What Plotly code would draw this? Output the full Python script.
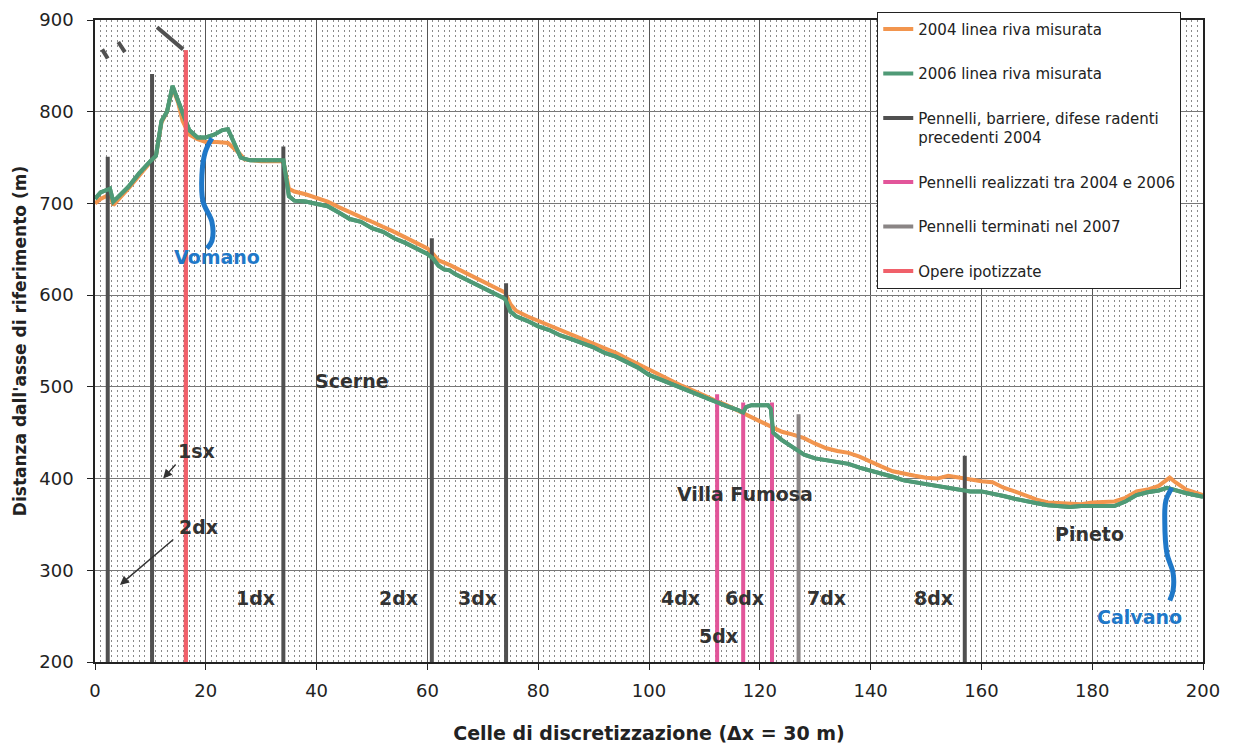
import plotly.graph_objects as go

# ---------------- data ----------------
x_2004 = [0, 1, 2.7, 3.3, 6, 8, 10, 11, 12, 13, 14, 15, 15.8, 17, 18.5, 20, 22, 24, 26, 27, 30, 34,
          35, 36, 38, 40, 42, 44, 46, 48, 50, 52, 54, 56, 58, 60, 61, 62, 64, 66, 68, 70, 72, 74,
          75, 76, 78, 80, 82, 84, 86, 88, 90, 92, 94, 96, 98, 100, 102, 104, 106, 108, 110, 112,
          114, 116, 118, 120, 122, 124, 126, 128, 130, 132, 134, 136, 138, 140, 142, 144, 146, 148,
          150, 152, 154, 156, 158, 160, 162, 164, 166, 168, 170, 172, 174, 176, 178, 180, 182, 184,
          186, 188, 190, 192, 194, 195, 197, 200]
y_2004 = [700, 705, 710, 698, 716, 731, 745, 752, 788, 800, 826, 810, 790, 775, 770, 767, 767, 766, 755, 748, 746, 746,
          716, 713, 710, 706, 702, 696, 690, 685, 680, 675, 669, 663, 657, 651, 645, 638, 633, 627, 621, 615, 609, 603,
          590, 583, 577, 572, 567, 562, 557, 552, 548, 542, 537, 531, 525, 518, 512, 506, 501, 496, 490, 485,
          480, 474, 468, 462, 456, 451, 448, 444, 438, 433, 430, 428, 424, 418, 413, 408, 405, 403,
          401, 400, 403, 401, 398, 397, 396, 390, 386, 381, 377, 374, 373, 372, 372, 374, 375, 375,
          379, 386, 388, 392, 401, 396, 388, 382]

x_2006 = [0, 1, 2.7, 3.3, 6, 8, 10, 11, 12, 13, 14, 15, 15.8, 17, 18.5, 20, 21.5, 23, 24, 25, 26.3, 28, 30, 32, 34,
          35, 36, 38, 40, 42, 44, 46, 48, 50, 52, 54, 56, 58, 60, 61, 62, 63, 64, 65, 66, 68, 70, 72, 74,
          75, 76, 78, 80, 82, 84, 86, 88, 90, 92, 94, 96, 98, 100, 102, 104, 106, 108, 110, 112, 114, 116,
          117, 117.5, 118.5, 121.5, 122, 122.4, 124, 126, 127, 128, 130, 132, 134, 136, 138, 140, 142, 144,
          146, 148, 150, 152, 154, 156, 158, 160, 162, 164, 166, 168, 170, 172, 174, 176, 178, 180, 182,
          184, 186, 188, 190, 192, 193.5, 195, 197, 200]
y_2006 = [705, 712, 716, 702, 718, 733, 746, 752, 790, 800, 828, 812, 797, 780, 772, 772, 775, 780, 781, 768, 750, 747, 747, 747, 747,
          708, 703, 702, 700, 697, 690, 683, 680, 673, 669, 662, 657, 651, 645, 640, 632, 628, 627, 623, 620, 614, 607, 602, 596,
          582, 577, 572, 566, 562, 556, 552, 548, 543, 537, 533, 527, 521, 513, 508, 503, 498, 493, 488, 484, 479, 475,
          472, 478, 480, 480, 476, 450, 442, 434, 430, 426, 422, 420, 418, 416, 412, 409, 406, 402,
          398, 396, 394, 392, 389, 387, 386, 386, 384, 381, 378, 375, 373, 371, 370, 369, 370, 370, 369,
          370, 375, 382, 385, 387, 390, 387, 384, 380]

# groynes / structures: x position and top of each
old_x = [2.3, 10.3, 34, 60.8, 74.2, 157]
old_top = [751, 841, 762, 662, 613, 425]
new_x = [112.3, 117, 122.2]
new_top = [492, 483, 483]
done2007_x = [127]
done2007_top = [470]
planned_x = [16.4]
planned_top = [867]
base_y = 200

# small dark structures near top-left (x0, y0, x1, y1)
top_marks = [(11.2, 892, 15.9, 868), (1.3, 868, 2.3, 858), (4.2, 876, 5.4, 865)]

# rivers
vomano_x = [21.1, 19.9, 19.3, 19.5, 21.1, 21.1, 20.2]
vomano_y = [771, 756, 731, 702, 680, 659, 651]
calvano_x = [194.4, 193.3, 193.1, 193.5, 194.6, 194.6, 194]
calvano_y = [390, 376, 354, 318, 297, 278, 267]

# labels
place_labels = ["Scerne", "Villa Fumosa", "Pineto"]
place_x = [46.4, 117.3, 179.6]
place_y = [506, 383, 340]
river_labels = ["Vomano", "Calvano"]
river_lx = [22, 188.6]
river_ly = [642, 249]
groyne_labels = ["1dx", "2dx", "3dx", "4dx", "6dx", "7dx", "8dx", "5dx"]
groyne_lx = [28.9, 54.7, 69.1, 105.6, 117.3, 132, 151.4, 112.5]
groyne_ly = [270, 270, 270, 270, 270, 270, 270, 228]
arrow_labels = ["1sx", "2dx"]
arrow_lx = [18.4, 18.6]
arrow_ly = [430, 347]
arrow_tail_x = [14.8, 14.4]
arrow_tail_y = [417, 335]
arrow_head_x = [12.3, 4.5]
arrow_head_y = [400, 284]

x_ticks = list(range(0, 201, 20))
y_ticks = list(range(200, 901, 100))

# ---------------- colours ----------------
C_2004 = "#f2954e"
C_2006 = "#4f9a76"
C_OLD = "#505050"
C_NEW = "#e2559a"
C_2007 = "#8a8585"
C_PLAN = "#f0606a"
C_RIVER = "#1f78c8"
FONT = "DejaVu Sans"


def vlines(xs, tops):
    xx, yy = [], []
    for x, t in zip(xs, tops):
        xx += [x, x, None]
        yy += [base_y, t, None]
    return xx, yy


fig = go.Figure()

fig.add_trace(go.Scatter(x=x_2004, y=y_2004, mode="lines", name="2004 linea riva misurata",
                         line=dict(color=C_2004, width=4), legendgroup="a"))
fig.add_trace(go.Scatter(x=x_2006, y=y_2006, mode="lines", name="2006 linea riva misurata",
                         line=dict(color=C_2006, width=4), legendgroup="b"))

ox, oy = vlines(old_x, old_top)
for (a, b, c, d) in top_marks:
    ox += [a, c, None]
    oy += [b, d, None]
fig.add_trace(go.Scatter(x=ox, y=oy, mode="lines",
                         name="Pennelli, barriere, difese radenti<br>precedenti 2004",
                         line=dict(color=C_OLD, width=4), legendgroup="c"))
nx, ny = vlines(new_x, new_top)
fig.add_trace(go.Scatter(x=nx, y=ny, mode="lines", name="Pennelli realizzati tra 2004 e 2006",
                         line=dict(color=C_NEW, width=4), legendgroup="d"))
dx_, dy_ = vlines(done2007_x, done2007_top)
fig.add_trace(go.Scatter(x=dx_, y=dy_, mode="lines", name="Pennelli terminati nel 2007",
                         line=dict(color=C_2007, width=4), legendgroup="e"))
px_, py_ = vlines(planned_x, planned_top)
fig.add_trace(go.Scatter(x=px_, y=py_, mode="lines", name="Opere ipotizzate",
                         line=dict(color=C_PLAN, width=4), legendgroup="f"))

# redraw 2006 line over structures where it overlaps (as in the original)
fig.add_trace(go.Scatter(x=x_2006, y=y_2006, mode="lines", showlegend=False, hoverinfo="skip",
                         line=dict(color=C_2006, width=4)))
fig.add_trace(go.Scatter(x=px_, y=py_, mode="lines", showlegend=False, hoverinfo="skip",
                         line=dict(color=C_PLAN, width=4)))

fig.add_trace(go.Scatter(x=vomano_x, y=vomano_y, mode="lines", showlegend=False,
                         line=dict(color=C_RIVER, width=5, shape="spline")))
fig.add_trace(go.Scatter(x=calvano_x, y=calvano_y, mode="lines", showlegend=False,
                         line=dict(color=C_RIVER, width=5, shape="spline")))

LBL = 19
for t, x, y in zip(place_labels, place_x, place_y):
    fig.add_annotation(x=x, y=y, text=t, showarrow=False,
                       font=dict(family=FONT, size=LBL, color="#333333", weight="bold"))
for t, x, y in zip(river_labels, river_lx, river_ly):
    fig.add_annotation(x=x, y=y, text=t, showarrow=False,
                       font=dict(family=FONT, size=LBL, color=C_RIVER, weight="bold"))
for t, x, y in zip(groyne_labels, groyne_lx, groyne_ly):
    fig.add_annotation(x=x, y=y, text=t, showarrow=False,
                       font=dict(family=FONT, size=LBL, color="#333333", weight="bold"))
for t, x, y in zip(arrow_labels, arrow_lx, arrow_ly):
    fig.add_annotation(x=x, y=y, text=t, showarrow=False,
                       font=dict(family=FONT, size=LBL, color="#333333", weight="bold"))
for tx, ty, hx, hy in zip(arrow_tail_x, arrow_tail_y, arrow_head_x, arrow_head_y):
    fig.add_annotation(x=hx, y=hy, ax=tx, ay=ty, axref="x", ayref="y", text="",
                       showarrow=True, arrowhead=2, arrowsize=1.2, arrowwidth=1.5,
                       arrowcolor="#333333")

fig.update_layout(
    width=1235, height=748,
    margin=dict(l=95, r=32, t=18, b=86),
    plot_bgcolor="white", paper_bgcolor="white",
    font=dict(family=FONT, color="#222222"),
    showlegend=True,
    legend=dict(x=0.706, y=1.013, xanchor="left", yanchor="top",
                bgcolor="white", bordercolor="#222222", borderwidth=1,
                font=dict(family=FONT, size=15, color="#222222"),
                tracegroupgap=22, valign="top", traceorder="grouped",
                itemwidth=30),
)
fig.update_xaxes(
    range=[0, 200], tickvals=x_ticks, ticktext=[str(v) for v in x_ticks],
    showline=True, linecolor="#222222", linewidth=1.5, mirror=True,
    ticks="outside", ticklen=6, tickcolor="#222222", ticklabelstandoff=6,
    tickfont=dict(family=FONT, size=18, color="#222222"),
    showgrid=True, gridcolor="#555555", gridwidth=1, zeroline=False, automargin=False,
    minor=dict(dtick=1, showgrid=True, gridcolor="#8a8a8a", griddash="2px,3px", gridwidth=1),
    title=dict(text="Celle di discretizzazione (Δx = 30 m)",
               font=dict(family=FONT, size=19, color="#222222", weight="bold"), standoff=26),
)
fig.update_yaxes(
    range=[200, 900], tickvals=y_ticks, ticktext=[str(v) for v in y_ticks],
    showline=True, linecolor="#222222", linewidth=1.5, mirror=True,
    ticks="outside", ticklen=6, tickcolor="#222222", ticklabelstandoff=10,
    tickfont=dict(family=FONT, size=18, color="#222222"),
    showgrid=True, gridcolor="#777777", gridwidth=1, zeroline=False, automargin=False,
    title=dict(text="Distanza dall'asse di riferimento (m)",
               font=dict(family=FONT, size=17, color="#222222", weight="bold"), standoff=8),
)

fig.write_html("out.html")
